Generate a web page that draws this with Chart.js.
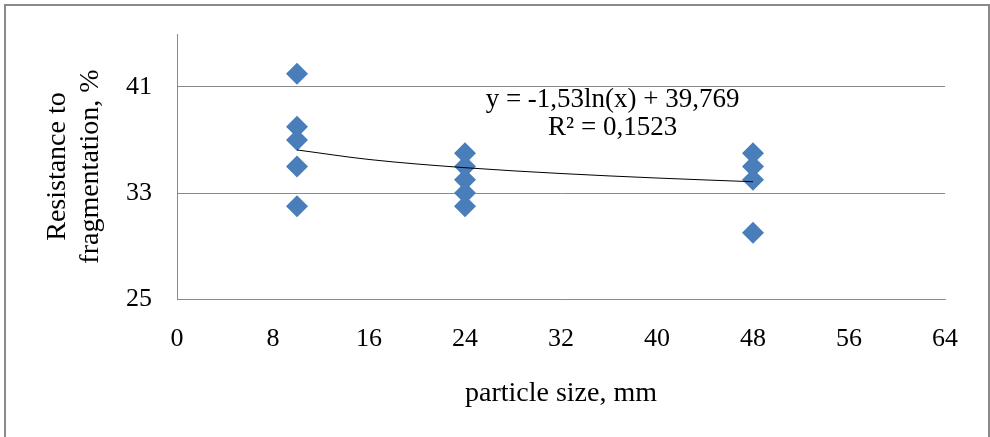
<!DOCTYPE html>
<html>
<head>
<meta charset="utf-8">
<script src="https://cdn.jsdelivr.net/npm/chart.js@4"></script>
<style>
  html, body { margin: 0; padding: 0; background: #fff; }
  #wrap { position: relative; width: 990px; height: 437px; overflow: hidden; }
  #frame { position: absolute; left: 4px; top: 4px; width: 982px; height: 500px; border: 2px solid #8a8a8a; }
  canvas { position: absolute; left: 0; top: 0; }
</style>
</head>
<body>
<div id="wrap">
  <div id="frame"></div>
  <canvas id="myChart" width="990" height="437"></canvas>
</div>
<script>
const grafico = document.getElementById('myChart')

// measured points
const particleSize = [10, 10, 10, 10, 10, 24, 24, 24, 24, 24, 48, 48, 48, 48]
const resistance = [42, 38, 37, 35, 32, 36, 35, 34, 33, 32, 36, 35, 34, 30]

// logarithmic trend line
const trendX = [10, 16, 24, 32, 40, 48]
const trendY = [36.25, 35.53, 34.91, 34.47, 34.13, 33.85]

const yTicks = [25, 33, 41]
const trendLabel = ['y = -1,53ln(x) + 39,769', 'R\u00b2 = 0,1523']

const pontos = particleSize.map((x, i) => ({ x: x, y: resistance[i] }))
const tendencia = trendX.map((x, i) => ({ x: x, y: trendY[i] }))

const serif = 'Liberation Serif'
const cinza = '#8a8a8a'

// equation text of the trend line
const rotuloTendencia = {
    id: 'rotuloTendencia',
    afterDatasetsDraw(chart) {
        const ctx = chart.ctx
        const x = chart.scales.x.getPixelForValue(36.3)
        const y = chart.scales.y.getPixelForValue(40.0)
        ctx.save()
        ctx.font = '27px "' + serif + '"'
        ctx.fillStyle = '#000'
        ctx.textAlign = 'center'
        ctx.textBaseline = 'middle'
        trendLabel.forEach((linha, i) => ctx.fillText(linha, x, y + i * 28))
        ctx.restore()
    }
}

new Chart(grafico, {
    type: 'scatter',
    data: {
        datasets: [
            {
                label: 'trend',
                type: 'line',
                data: tendencia,
                borderColor: '#000',
                borderWidth: 1,
                pointRadius: 0,
                fill: false,
                cubicInterpolationMode: 'monotone',
                order: 0
            },
            {
                label: 'Resistance to fragmentation',
                data: pontos,
                pointStyle: 'rectRot',
                pointRadius: 11,
                pointHoverRadius: 11,
                backgroundColor: '#4a7ebb',
                borderColor: '#4a7ebb',
                borderWidth: 0,
                order: 1
            }
        ]
    },
    options: {
        responsive: false,
        animation: false,
        events: [],
        layout: { padding: { left: 0, top: 34, right: 45, bottom: 0 } },
        plugins: {
            legend: { display: false },
            tooltip: { enabled: false }
        },
        scales: {
            x: {
                type: 'linear',
                min: 0,
                max: 64,
                afterFit(scale) { scale.height = 138 },
                ticks: {
                    stepSize: 8,
                    padding: 25,
                    color: '#000',
                    font: { family: serif, size: 26 }
                },
                grid: { display: false, drawTicks: false },
                border: { display: true, color: cinza, width: 1 },
                title: {
                    display: true,
                    text: 'particle size, mm',
                    color: '#000',
                    font: { family: serif, size: 28 },
                    padding: { top: 0, bottom: 27 }
                }
            },
            y: {
                min: 25,
                max: 45,
                afterFit(scale) {
                    scale.width = 177
                    scale.paddingTop = 0
                    scale.paddingBottom = 0
                },
                afterBuildTicks(scale) { scale.ticks = yTicks.map(v => ({ value: v })) },
                ticks: {
                    padding: 25,
                    color: '#000',
                    font: { family: serif, size: 26, lineHeight: 0.5 }
                },
                grid: { color: cinza, lineWidth: 1, drawTicks: false },
                border: { display: true, color: cinza, width: 1 },
                title: {
                    display: true,
                    text: ['Resistance to', 'fragmentation, %'],
                    color: '#000',
                    font: { family: serif, size: 28, lineHeight: 1.15 },
                    padding: { top: 42, bottom: 0 }
                }
            }
        }
    },
    plugins: [rotuloTendencia]
})
</script>
</body>
</html>
